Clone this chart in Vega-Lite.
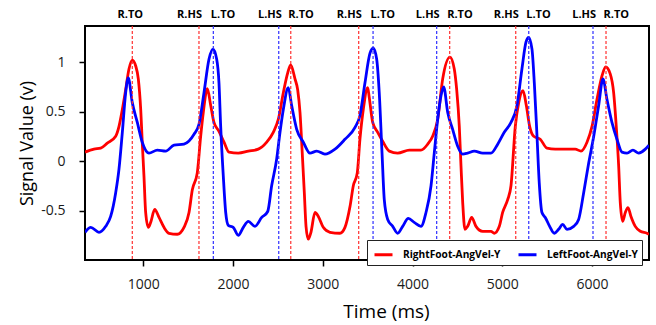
{
  "$schema": "https://vega.github.io/schema/vega-lite/v6.json",
  "width": 564,
  "height": 234,
  "autosize": "none",
  "padding": {"left": 85, "top": 26, "right": 7, "bottom": 65},
  "background": "white",
  "datasets": {
    "signals": [
      {"t":350,"v":0.09,"s":"RightFoot-AngVel-Y"},{"t":450,"v":0.12,"s":"RightFoot-AngVel-Y"},{"t":525,"v":0.13,"s":"RightFoot-AngVel-Y"},{"t":598,"v":0.18,"s":"RightFoot-AngVel-Y"},{"t":692,"v":0.25,"s":"RightFoot-AngVel-Y"},{"t":729,"v":0.35,"s":"RightFoot-AngVel-Y"},{"t":766,"v":0.52,"s":"RightFoot-AngVel-Y"},{"t":803,"v":0.72,"s":"RightFoot-AngVel-Y"},{"t":840,"v":0.93,"s":"RightFoot-AngVel-Y"},{"t":877,"v":1.02,"s":"RightFoot-AngVel-Y"},{"t":915,"v":0.96,"s":"RightFoot-AngVel-Y"},{"t":944,"v":0.83,"s":"RightFoot-AngVel-Y"},{"t":971,"v":0.52,"s":"RightFoot-AngVel-Y"},{"t":988,"v":0.19,"s":"RightFoot-AngVel-Y"},{"t":1007,"v":-0.15,"s":"RightFoot-AngVel-Y"},{"t":1026,"v":-0.52,"s":"RightFoot-AngVel-Y"},{"t":1055,"v":-0.67,"s":"RightFoot-AngVel-Y"},{"t":1082,"v":-0.62,"s":"RightFoot-AngVel-Y"},{"t":1127,"v":-0.49,"s":"RightFoot-AngVel-Y"},{"t":1175,"v":-0.57,"s":"RightFoot-AngVel-Y"},{"t":1230,"v":-0.67,"s":"RightFoot-AngVel-Y"},{"t":1286,"v":-0.73,"s":"RightFoot-AngVel-Y"},{"t":1378,"v":-0.74,"s":"RightFoot-AngVel-Y"},{"t":1453,"v":-0.67,"s":"RightFoot-AngVel-Y"},{"t":1509,"v":-0.52,"s":"RightFoot-AngVel-Y"},{"t":1546,"v":-0.29,"s":"RightFoot-AngVel-Y"},{"t":1601,"v":-0.12,"s":"RightFoot-AngVel-Y"},{"t":1639,"v":0.25,"s":"RightFoot-AngVel-Y"},{"t":1668,"v":0.49,"s":"RightFoot-AngVel-Y"},{"t":1713,"v":0.73,"s":"RightFoot-AngVel-Y"},{"t":1751,"v":0.56,"s":"RightFoot-AngVel-Y"},{"t":1787,"v":0.39,"s":"RightFoot-AngVel-Y"},{"t":1843,"v":0.3,"s":"RightFoot-AngVel-Y"},{"t":1899,"v":0.19,"s":"RightFoot-AngVel-Y"},{"t":1955,"v":0.09,"s":"RightFoot-AngVel-Y"},{"t":2058,"v":0.08,"s":"RightFoot-AngVel-Y"},{"t":2170,"v":0.1,"s":"RightFoot-AngVel-Y"},{"t":2281,"v":0.12,"s":"RightFoot-AngVel-Y"},{"t":2375,"v":0.19,"s":"RightFoot-AngVel-Y"},{"t":2448,"v":0.29,"s":"RightFoot-AngVel-Y"},{"t":2504,"v":0.42,"s":"RightFoot-AngVel-Y"},{"t":2560,"v":0.69,"s":"RightFoot-AngVel-Y"},{"t":2609,"v":0.89,"s":"RightFoot-AngVel-Y"},{"t":2642,"v":0.97,"s":"RightFoot-AngVel-Y"},{"t":2690,"v":0.83,"s":"RightFoot-AngVel-Y"},{"t":2720,"v":0.72,"s":"RightFoot-AngVel-Y"},{"t":2746,"v":0.49,"s":"RightFoot-AngVel-Y"},{"t":2771,"v":0.08,"s":"RightFoot-AngVel-Y"},{"t":2794,"v":-0.32,"s":"RightFoot-AngVel-Y"},{"t":2813,"v":-0.66,"s":"RightFoot-AngVel-Y"},{"t":2838,"v":-0.79,"s":"RightFoot-AngVel-Y"},{"t":2868,"v":-0.72,"s":"RightFoot-AngVel-Y"},{"t":2913,"v":-0.52,"s":"RightFoot-AngVel-Y"},{"t":2950,"v":-0.56,"s":"RightFoot-AngVel-Y"},{"t":3005,"v":-0.67,"s":"RightFoot-AngVel-Y"},{"t":3080,"v":-0.72,"s":"RightFoot-AngVel-Y"},{"t":3191,"v":-0.73,"s":"RightFoot-AngVel-Y"},{"t":3247,"v":-0.67,"s":"RightFoot-AngVel-Y"},{"t":3303,"v":-0.46,"s":"RightFoot-AngVel-Y"},{"t":3340,"v":-0.25,"s":"RightFoot-AngVel-Y"},{"t":3384,"v":-0.12,"s":"RightFoot-AngVel-Y"},{"t":3414,"v":0.22,"s":"RightFoot-AngVel-Y"},{"t":3451,"v":0.52,"s":"RightFoot-AngVel-Y"},{"t":3500,"v":0.74,"s":"RightFoot-AngVel-Y"},{"t":3518,"v":0.64,"s":"RightFoot-AngVel-Y"},{"t":3556,"v":0.39,"s":"RightFoot-AngVel-Y"},{"t":3612,"v":0.29,"s":"RightFoot-AngVel-Y"},{"t":3667,"v":0.2,"s":"RightFoot-AngVel-Y"},{"t":3741,"v":0.1,"s":"RightFoot-AngVel-Y"},{"t":3834,"v":0.08,"s":"RightFoot-AngVel-Y"},{"t":3964,"v":0.11,"s":"RightFoot-AngVel-Y"},{"t":4094,"v":0.11,"s":"RightFoot-AngVel-Y"},{"t":4169,"v":0.17,"s":"RightFoot-AngVel-Y"},{"t":4224,"v":0.25,"s":"RightFoot-AngVel-Y"},{"t":4280,"v":0.42,"s":"RightFoot-AngVel-Y"},{"t":4336,"v":0.83,"s":"RightFoot-AngVel-Y"},{"t":4417,"v":1.05,"s":"RightFoot-AngVel-Y"},{"t":4465,"v":0.93,"s":"RightFoot-AngVel-Y"},{"t":4492,"v":0.72,"s":"RightFoot-AngVel-Y"},{"t":4521,"v":0.35,"s":"RightFoot-AngVel-Y"},{"t":4540,"v":-0.05,"s":"RightFoot-AngVel-Y"},{"t":4559,"v":-0.42,"s":"RightFoot-AngVel-Y"},{"t":4584,"v":-0.69,"s":"RightFoot-AngVel-Y"},{"t":4614,"v":-0.66,"s":"RightFoot-AngVel-Y"},{"t":4659,"v":-0.57,"s":"RightFoot-AngVel-Y"},{"t":4707,"v":-0.66,"s":"RightFoot-AngVel-Y"},{"t":4782,"v":-0.71,"s":"RightFoot-AngVel-Y"},{"t":4874,"v":-0.71,"s":"RightFoot-AngVel-Y"},{"t":4911,"v":-0.73,"s":"RightFoot-AngVel-Y"},{"t":4967,"v":-0.66,"s":"RightFoot-AngVel-Y"},{"t":5004,"v":-0.52,"s":"RightFoot-AngVel-Y"},{"t":5060,"v":-0.39,"s":"RightFoot-AngVel-Y"},{"t":5097,"v":-0.25,"s":"RightFoot-AngVel-Y"},{"t":5145,"v":0.35,"s":"RightFoot-AngVel-Y"},{"t":5183,"v":0.59,"s":"RightFoot-AngVel-Y"},{"t":5231,"v":0.71,"s":"RightFoot-AngVel-Y"},{"t":5268,"v":0.56,"s":"RightFoot-AngVel-Y"},{"t":5305,"v":0.35,"s":"RightFoot-AngVel-Y"},{"t":5350,"v":0.25,"s":"RightFoot-AngVel-Y"},{"t":5423,"v":0.22,"s":"RightFoot-AngVel-Y"},{"t":5498,"v":0.13,"s":"RightFoot-AngVel-Y"},{"t":5591,"v":0.12,"s":"RightFoot-AngVel-Y"},{"t":5721,"v":0.12,"s":"RightFoot-AngVel-Y"},{"t":5813,"v":0.12,"s":"RightFoot-AngVel-Y"},{"t":5877,"v":0.1,"s":"RightFoot-AngVel-Y"},{"t":5944,"v":0.19,"s":"RightFoot-AngVel-Y"},{"t":6000,"v":0.35,"s":"RightFoot-AngVel-Y"},{"t":6055,"v":0.62,"s":"RightFoot-AngVel-Y"},{"t":6111,"v":0.86,"s":"RightFoot-AngVel-Y"},{"t":6152,"v":0.95,"s":"RightFoot-AngVel-Y"},{"t":6203,"v":0.88,"s":"RightFoot-AngVel-Y"},{"t":6241,"v":0.69,"s":"RightFoot-AngVel-Y"},{"t":6270,"v":0.35,"s":"RightFoot-AngVel-Y"},{"t":6297,"v":-0.05,"s":"RightFoot-AngVel-Y"},{"t":6315,"v":-0.42,"s":"RightFoot-AngVel-Y"},{"t":6342,"v":-0.61,"s":"RightFoot-AngVel-Y"},{"t":6371,"v":-0.52,"s":"RightFoot-AngVel-Y"},{"t":6401,"v":-0.47,"s":"RightFoot-AngVel-Y"},{"t":6434,"v":-0.56,"s":"RightFoot-AngVel-Y"},{"t":6482,"v":-0.66,"s":"RightFoot-AngVel-Y"},{"t":6538,"v":-0.71,"s":"RightFoot-AngVel-Y"},{"t":6612,"v":-0.73,"s":"RightFoot-AngVel-Y"},{"t":6635,"v":-0.74,"s":"RightFoot-AngVel-Y"},
      {"t":350,"v":-0.72,"s":"LeftFoot-AngVel-Y"},{"t":414,"v":-0.67,"s":"LeftFoot-AngVel-Y"},{"t":506,"v":-0.72,"s":"LeftFoot-AngVel-Y"},{"t":581,"v":-0.66,"s":"LeftFoot-AngVel-Y"},{"t":636,"v":-0.56,"s":"LeftFoot-AngVel-Y"},{"t":692,"v":-0.32,"s":"LeftFoot-AngVel-Y"},{"t":729,"v":-0.08,"s":"LeftFoot-AngVel-Y"},{"t":766,"v":0.29,"s":"LeftFoot-AngVel-Y"},{"t":803,"v":0.69,"s":"LeftFoot-AngVel-Y"},{"t":832,"v":0.84,"s":"LeftFoot-AngVel-Y"},{"t":877,"v":0.59,"s":"LeftFoot-AngVel-Y"},{"t":933,"v":0.39,"s":"LeftFoot-AngVel-Y"},{"t":988,"v":0.19,"s":"LeftFoot-AngVel-Y"},{"t":1063,"v":0.08,"s":"LeftFoot-AngVel-Y"},{"t":1156,"v":0.11,"s":"LeftFoot-AngVel-Y"},{"t":1249,"v":0.1,"s":"LeftFoot-AngVel-Y"},{"t":1342,"v":0.16,"s":"LeftFoot-AngVel-Y"},{"t":1453,"v":0.17,"s":"LeftFoot-AngVel-Y"},{"t":1565,"v":0.27,"s":"LeftFoot-AngVel-Y"},{"t":1620,"v":0.37,"s":"LeftFoot-AngVel-Y"},{"t":1676,"v":0.69,"s":"LeftFoot-AngVel-Y"},{"t":1732,"v":1.03,"s":"LeftFoot-AngVel-Y"},{"t":1776,"v":1.13,"s":"LeftFoot-AngVel-Y"},{"t":1817,"v":1.03,"s":"LeftFoot-AngVel-Y"},{"t":1843,"v":0.79,"s":"LeftFoot-AngVel-Y"},{"t":1862,"v":0.35,"s":"LeftFoot-AngVel-Y"},{"t":1891,"v":-0.15,"s":"LeftFoot-AngVel-Y"},{"t":1918,"v":-0.52,"s":"LeftFoot-AngVel-Y"},{"t":1947,"v":-0.65,"s":"LeftFoot-AngVel-Y"},{"t":2002,"v":-0.67,"s":"LeftFoot-AngVel-Y"},{"t":2058,"v":-0.75,"s":"LeftFoot-AngVel-Y"},{"t":2114,"v":-0.67,"s":"LeftFoot-AngVel-Y"},{"t":2170,"v":-0.61,"s":"LeftFoot-AngVel-Y"},{"t":2244,"v":-0.66,"s":"LeftFoot-AngVel-Y"},{"t":2319,"v":-0.57,"s":"LeftFoot-AngVel-Y"},{"t":2386,"v":-0.51,"s":"LeftFoot-AngVel-Y"},{"t":2430,"v":-0.25,"s":"LeftFoot-AngVel-Y"},{"t":2486,"v":0.02,"s":"LeftFoot-AngVel-Y"},{"t":2523,"v":0.29,"s":"LeftFoot-AngVel-Y"},{"t":2560,"v":0.52,"s":"LeftFoot-AngVel-Y"},{"t":2615,"v":0.74,"s":"LeftFoot-AngVel-Y"},{"t":2653,"v":0.56,"s":"LeftFoot-AngVel-Y"},{"t":2709,"v":0.32,"s":"LeftFoot-AngVel-Y"},{"t":2783,"v":0.19,"s":"LeftFoot-AngVel-Y"},{"t":2857,"v":0.08,"s":"LeftFoot-AngVel-Y"},{"t":2932,"v":0.1,"s":"LeftFoot-AngVel-Y"},{"t":3024,"v":0.07,"s":"LeftFoot-AngVel-Y"},{"t":3136,"v":0.12,"s":"LeftFoot-AngVel-Y"},{"t":3247,"v":0.22,"s":"LeftFoot-AngVel-Y"},{"t":3359,"v":0.34,"s":"LeftFoot-AngVel-Y"},{"t":3414,"v":0.46,"s":"LeftFoot-AngVel-Y"},{"t":3470,"v":0.79,"s":"LeftFoot-AngVel-Y"},{"t":3526,"v":1.09,"s":"LeftFoot-AngVel-Y"},{"t":3563,"v":1.14,"s":"LeftFoot-AngVel-Y"},{"t":3600,"v":1.03,"s":"LeftFoot-AngVel-Y"},{"t":3629,"v":0.69,"s":"LeftFoot-AngVel-Y"},{"t":3660,"v":0.08,"s":"LeftFoot-AngVel-Y"},{"t":3685,"v":-0.39,"s":"LeftFoot-AngVel-Y"},{"t":3723,"v":-0.59,"s":"LeftFoot-AngVel-Y"},{"t":3779,"v":-0.66,"s":"LeftFoot-AngVel-Y"},{"t":3834,"v":-0.73,"s":"LeftFoot-AngVel-Y"},{"t":3890,"v":-0.66,"s":"LeftFoot-AngVel-Y"},{"t":3953,"v":-0.58,"s":"LeftFoot-AngVel-Y"},{"t":4019,"v":-0.62,"s":"LeftFoot-AngVel-Y"},{"t":4094,"v":-0.66,"s":"LeftFoot-AngVel-Y"},{"t":4150,"v":-0.52,"s":"LeftFoot-AngVel-Y"},{"t":4206,"v":-0.25,"s":"LeftFoot-AngVel-Y"},{"t":4242,"v":0.08,"s":"LeftFoot-AngVel-Y"},{"t":4280,"v":0.42,"s":"LeftFoot-AngVel-Y"},{"t":4317,"v":0.66,"s":"LeftFoot-AngVel-Y"},{"t":4347,"v":0.75,"s":"LeftFoot-AngVel-Y"},{"t":4392,"v":0.49,"s":"LeftFoot-AngVel-Y"},{"t":4447,"v":0.32,"s":"LeftFoot-AngVel-Y"},{"t":4503,"v":0.15,"s":"LeftFoot-AngVel-Y"},{"t":4559,"v":0.07,"s":"LeftFoot-AngVel-Y"},{"t":4614,"v":0.08,"s":"LeftFoot-AngVel-Y"},{"t":4688,"v":0.1,"s":"LeftFoot-AngVel-Y"},{"t":4782,"v":0.08,"s":"LeftFoot-AngVel-Y"},{"t":4874,"v":0.08,"s":"LeftFoot-AngVel-Y"},{"t":4949,"v":0.17,"s":"LeftFoot-AngVel-Y"},{"t":5022,"v":0.29,"s":"LeftFoot-AngVel-Y"},{"t":5097,"v":0.39,"s":"LeftFoot-AngVel-Y"},{"t":5164,"v":0.56,"s":"LeftFoot-AngVel-Y"},{"t":5219,"v":0.93,"s":"LeftFoot-AngVel-Y"},{"t":5264,"v":1.2,"s":"LeftFoot-AngVel-Y"},{"t":5294,"v":1.25,"s":"LeftFoot-AngVel-Y"},{"t":5331,"v":1.13,"s":"LeftFoot-AngVel-Y"},{"t":5357,"v":0.79,"s":"LeftFoot-AngVel-Y"},{"t":5387,"v":0.25,"s":"LeftFoot-AngVel-Y"},{"t":5412,"v":-0.22,"s":"LeftFoot-AngVel-Y"},{"t":5442,"v":-0.52,"s":"LeftFoot-AngVel-Y"},{"t":5479,"v":-0.57,"s":"LeftFoot-AngVel-Y"},{"t":5528,"v":-0.66,"s":"LeftFoot-AngVel-Y"},{"t":5580,"v":-0.73,"s":"LeftFoot-AngVel-Y"},{"t":5628,"v":-0.69,"s":"LeftFoot-AngVel-Y"},{"t":5673,"v":-0.64,"s":"LeftFoot-AngVel-Y"},{"t":5721,"v":-0.69,"s":"LeftFoot-AngVel-Y"},{"t":5796,"v":-0.66,"s":"LeftFoot-AngVel-Y"},{"t":5851,"v":-0.59,"s":"LeftFoot-AngVel-Y"},{"t":5907,"v":-0.32,"s":"LeftFoot-AngVel-Y"},{"t":5963,"v":-0.02,"s":"LeftFoot-AngVel-Y"},{"t":6019,"v":0.25,"s":"LeftFoot-AngVel-Y"},{"t":6074,"v":0.56,"s":"LeftFoot-AngVel-Y"},{"t":6122,"v":0.83,"s":"LeftFoot-AngVel-Y"},{"t":6167,"v":0.62,"s":"LeftFoot-AngVel-Y"},{"t":6222,"v":0.39,"s":"LeftFoot-AngVel-Y"},{"t":6278,"v":0.22,"s":"LeftFoot-AngVel-Y"},{"t":6334,"v":0.09,"s":"LeftFoot-AngVel-Y"},{"t":6390,"v":0.08,"s":"LeftFoot-AngVel-Y"},{"t":6456,"v":0.11,"s":"LeftFoot-AngVel-Y"},{"t":6520,"v":0.08,"s":"LeftFoot-AngVel-Y"},{"t":6594,"v":0.12,"s":"LeftFoot-AngVel-Y"},{"t":6635,"v":0.16,"s":"LeftFoot-AngVel-Y"}
    ],
    "events": [
      {"t":877,"label":"R.TO","foot":"R","kind":"TO"},
      {"t":1620,"label":"R.HS","foot":"R","kind":"HS"},
      {"t":1780,"label":"L.TO","foot":"L","kind":"TO"},
      {"t":2509,"label":"L.HS","foot":"L","kind":"HS"},
      {"t":2643,"label":"R.TO","foot":"R","kind":"TO"},
      {"t":3400,"label":"R.HS","foot":"R","kind":"HS"},
      {"t":3560,"label":"L.TO","foot":"L","kind":"TO"},
      {"t":4269,"label":"L.HS","foot":"L","kind":"HS"},
      {"t":4414,"label":"R.TO","foot":"R","kind":"TO"},
      {"t":5150,"label":"R.HS","foot":"R","kind":"HS"},
      {"t":5295,"label":"L.TO","foot":"L","kind":"TO"},
      {"t":6011,"label":"L.HS","foot":"L","kind":"HS"},
      {"t":6156,"label":"R.TO","foot":"R","kind":"TO"}
    ]
  },
  "layer": [
    {
      "data": {"name": "signals"},
      "transform": [{"filter": "datum.s === 'RightFoot-AngVel-Y'"}],
      "mark": {"type": "line", "strokeWidth": 2.8, "interpolate": "monotone", "clip": true},
      "encoding": {
        "x": {"field": "t", "type": "quantitative", "title": "Time (ms)", "scale": {"domain": [350, 6635], "nice": false, "zero": false},
          "axis": {"values": [1000, 2000, 3000, 4000, 5000, 6000], "format": "d", "titleX": 301}},
        "y": {"field": "v", "type": "quantitative", "title": "Signal Value (v)", "scale": {"domain": [-1.0, 1.364], "nice": false, "zero": false},
          "axis": {"values": [-0.5, 0, 0.5, 1], "labelExpr": "datum.value + ''"}},
        "color": {"field": "s", "type": "nominal", "scale": {"domain": ["RightFoot-AngVel-Y", "LeftFoot-AngVel-Y"], "range": ["#ff0000", "#0000ff"]},
          "legend": {"title": null, "orient": "none", "legendX": 282, "legendY": 214, "direction": "horizontal", "symbolType": "stroke", "symbolStrokeWidth": 3, "symbolSize": 324, "symbolOffset": 2, "labelFont": "Open Sans", "labelFontWeight": "bold", "labelFontSize": 10.2, "labelColor": "black", "labelOffset": 9, "strokeColor": "#222222", "fillColor": "white", "padding": 4, "columnPadding": 11,
            "encode": {"symbols": {"update": {"stroke": [{"test": "datum.value === 'LeftFoot-AngVel-Y'", "value": "#4a72d6"}, {"value": "#ff0000"}]}}}}}
      }
    },
    {
      "data": {"name": "signals"},
      "transform": [{"filter": "datum.s === 'LeftFoot-AngVel-Y'"}],
      "mark": {"type": "line", "strokeWidth": 2.8, "interpolate": "monotone", "clip": true},
      "encoding": {
        "x": {"field": "t", "type": "quantitative", "title": "Time (ms)"},
        "y": {"field": "v", "type": "quantitative", "title": "Signal Value (v)"},
        "color": {"field": "s", "type": "nominal"}
      }
    },
    {
      "data": {"name": "events"},
      "transform": [{"filter": "datum.foot === 'R'"}],
      "mark": {"type": "rule", "color": "#ff3030", "strokeWidth": 1.2, "strokeDash": [3, 2]},
      "encoding": {"x": {"field": "t", "type": "quantitative", "title": "Time (ms)"}}
    },
    {
      "data": {"name": "events"},
      "transform": [{"filter": "datum.foot === 'L'"}],
      "mark": {"type": "rule", "color": "#3030ff", "strokeWidth": 1.2, "strokeDash": [3, 2]},
      "encoding": {"x": {"field": "t", "type": "quantitative", "title": "Time (ms)"}}
    },
    {
      "data": {"name": "events"},
      "transform": [{"filter": "datum.kind === 'HS'"}],
      "mark": {"type": "text", "align": "right", "dx": 3, "baseline": "middle", "font": "Open Sans", "fontWeight": "bold", "fontSize": 11, "color": "black"},
      "encoding": {
        "x": {"field": "t", "type": "quantitative", "title": "Time (ms)"},
        "y": {"datum": 1.475, "type": "quantitative", "title": "Signal Value (v)"},
        "text": {"field": "label"}
      }
    },
    {
      "data": {"name": "events"},
      "transform": [{"filter": "datum.kind === 'TO' && datum.t > 1000"}],
      "mark": {"type": "text", "align": "left", "dx": -2.5, "baseline": "middle", "font": "Open Sans", "fontWeight": "bold", "fontSize": 11, "color": "black"},
      "encoding": {
        "x": {"field": "t", "type": "quantitative", "title": "Time (ms)"},
        "y": {"datum": 1.475, "type": "quantitative", "title": "Signal Value (v)"},
        "text": {"field": "label"}
      }
    },
    {
      "data": {"name": "events"},
      "transform": [{"filter": "datum.kind === 'TO' && datum.t < 1000"}],
      "mark": {"type": "text", "align": "center", "dx": -2, "baseline": "middle", "font": "Open Sans", "fontWeight": "bold", "fontSize": 11, "color": "black"},
      "encoding": {
        "x": {"field": "t", "type": "quantitative", "title": "Time (ms)"},
        "y": {"datum": 1.475, "type": "quantitative", "title": "Signal Value (v)"},
        "text": {"field": "label"}
      }
    }
  ],
  "config": {
    "view": {"stroke": "black", "strokeWidth": 2},
    "axisX": {"grid": false, "domain": false, "tickSize": 6, "tickColor": "black", "tickWidth": 1.5, "labelFont": "Open Sans", "labelFontSize": 14, "labelColor": "#1a1a1a", "labelPadding": 11, "titleFont": "Open Sans", "titleFontSize": 19, "titleFontWeight": "normal", "titleColor": "black", "titlePadding": 11},
    "axisY": {"grid": false, "domain": false, "tickSize": 6, "tickColor": "black", "tickWidth": 1.5, "labelFont": "Open Sans", "labelFontSize": 14, "labelColor": "#1a1a1a", "labelPadding": 14, "titleFont": "Open Sans", "titleFontSize": 18, "titleFontWeight": "normal", "titleColor": "black", "titlePadding": 4}
  }
}
